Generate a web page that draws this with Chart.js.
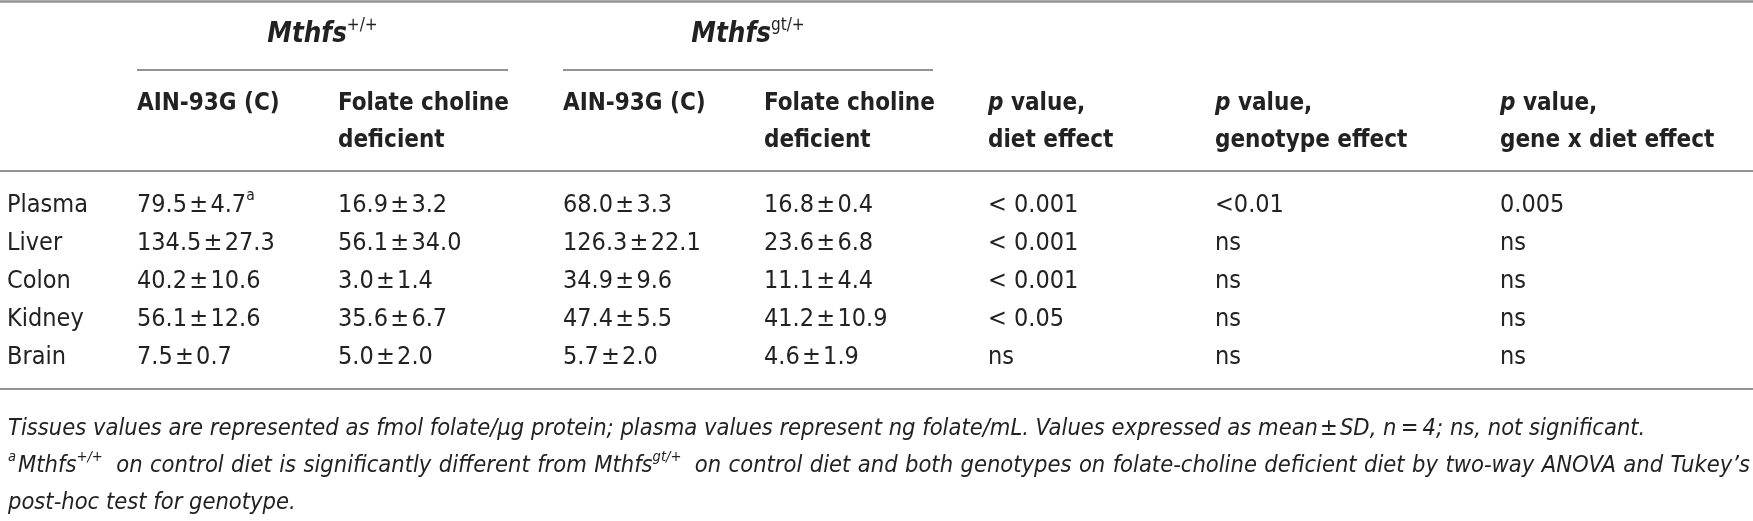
<!DOCTYPE html>
<html>
<head>
<meta charset="utf-8">
<script src="https://cdn.jsdelivr.net/npm/chart.js@4.4.1/dist/chart.umd.min.js"></script>
<style>
html, body { margin: 0; padding: 0; background: #fff; }
#wrap { width: 1753px; height: 521px; position: relative; }
</style>
</head>
<body>
<div id="wrap"><canvas id="tbl"></canvas></div>
<script>
// 조직 (행)
const tissues = ['Plasma', 'Liver', 'Colon', 'Kidney', 'Brain'];

// Mthfs +/+ , AIN-93G (C)
const wtCtrlMean = [79.5, 134.5, 40.2, 56.1, 7.5];
const wtCtrlSd   = [4.7, 27.3, 10.6, 12.6, 0.7];
const wtCtrlMark = ['a', '', '', '', ''];
// Mthfs +/+ , folate choline deficient
const wtFcdMean = [16.9, 56.1, 3.0, 35.6, 5.0];
const wtFcdSd   = [3.2, 34.0, 1.4, 6.7, 2.0];
// Mthfs gt/+ , AIN-93G (C)
const gtCtrlMean = [68.0, 126.3, 34.9, 47.4, 5.7];
const gtCtrlSd   = [3.3, 22.1, 9.6, 5.5, 2.0];
// Mthfs gt/+ , folate choline deficient
const gtFcdMean = [16.8, 23.6, 11.1, 41.2, 4.6];
const gtFcdSd   = [0.4, 6.8, 4.4, 10.9, 1.9];

// p 값
const pDiet     = ['< 0.001', '< 0.001', '< 0.001', '< 0.05', 'ns'];
const pGenotype = ['<0.01', 'ns', 'ns', 'ns', 'ns'];
const pGeneDiet = ['0.005', 'ns', 'ns', 'ns', 'ns'];

// 레이아웃 (축 단위 = 픽셀과 같은 범위)
const W = 1753, H = 521;
const colX = [7, 137, 338, 563, 764, 988, 1215, 1500];
const rowY = [205, 243, 281, 319, 357];
const FONT = '"Liberation Sans Narrow", "Arial Narrow", "DejaVu Sans Condensed", sans-serif';
const HEAD = 24;     // 헤더 글자 크기
const BODY = 25;     // 본문 글자 크기
const NOTE = 23.5;   // 각주
const INK = '#222';
const RULE = '#929292';

const fnt = (style, size) => `${style} ${size}px ${FONT}`;
const fmt = (m, s) => `${m.toFixed(1)}\u200a±\u200a${s.toFixed(1)}`;

const valueCols = [
  tissues.map(t => [{ t: t }]),
  wtCtrlMean.map((m, i) => [{ t: fmt(m, wtCtrlSd[i]) }, { t: wtCtrlMark[i], sup: true }]),
  wtFcdMean.map((m, i) => [{ t: fmt(m, wtFcdSd[i]) }]),
  gtCtrlMean.map((m, i) => [{ t: fmt(m, gtCtrlSd[i]) }]),
  gtFcdMean.map((m, i) => [{ t: fmt(m, gtFcdSd[i]) }]),
  pDiet.map(p => [{ t: p }]),
  pGenotype.map(p => [{ t: p }]),
  pGeneDiet.map(p => [{ t: p }])
];

// 한 줄 여러 스타일 텍스트
const runFont = (r, size) => {
  let st = r.style || 'normal';
  if (r.sup) st = st.replace('bold', '').trim() || 'normal';
  return fnt(st, r.sup ? size * 0.62 : size);
};

const runWidth = (ctx, runs, size) => {
  let w = 0;
  runs.forEach(r => {
    ctx.font = runFont(r, size);
    w += ctx.measureText(r.t).width + (r.gap || 0);
  });
  return w;
};

const drawRuns = (ctx, x, y, runs, size, align) => {
  if (align === 'center') x -= runWidth(ctx, runs, size) / 2;
  ctx.textBaseline = 'middle';
  ctx.textAlign = 'left';
  runs.forEach(r => {
    ctx.font = runFont(r, size);
    ctx.fillText(r.t, x, r.sup ? y - size * 0.36 : y);
    x += ctx.measureText(r.t).width + (r.gap || 0);
  });
};

const tablePlugin = {
  id: 'tablePlugin',
  afterDraw(chart) {
    const ctx = chart.ctx;
    const xs = chart.scales.x, ys = chart.scales.y;
    const px = v => xs.getPixelForValue(v);
    const py = v => ys.getPixelForValue(v);
    ctx.save();

    // 가로 선
    const hline = (x1, x2, y, w) => {
      ctx.strokeStyle = RULE;
      ctx.lineWidth = w;
      ctx.beginPath();
      ctx.moveTo(px(x1), py(y));
      ctx.lineTo(px(x2), py(y));
      ctx.stroke();
    };
    hline(0, W, 1.5, 2.5);
    hline(colX[1], 508, 70, 2);
    hline(colX[3], 933, 70, 2);
    hline(0, W, 171, 2);
    hline(0, W, 389, 2);

    ctx.fillStyle = INK;

    // 그룹 헤더
    drawRuns(ctx, px((colX[1] + 508) / 2), py(35), [{ t: 'Mthfs', style: 'italic bold' }, { t: '+/+', sup: true, style: 'normal' }], 27.5, 'center');
    drawRuns(ctx, px((colX[3] + 933) / 2), py(35), [{ t: 'Mthfs', style: 'italic bold' }, { t: 'gt/+', sup: true, style: 'normal' }], 27.5, 'center');

    // 열 헤더
    const heads = [
      null,
      [[{ t: 'AIN-93G (C)', style: 'bold' }]],
      [[{ t: 'Folate choline', style: 'bold' }], [{ t: 'deficient', style: 'bold' }]],
      [[{ t: 'AIN-93G (C)', style: 'bold' }]],
      [[{ t: 'Folate choline', style: 'bold' }], [{ t: 'deficient', style: 'bold' }]],
      [[{ t: 'p', style: 'italic bold' }, { t: ' value,', style: 'bold' }], [{ t: 'diet effect', style: 'bold' }]],
      [[{ t: 'p', style: 'italic bold' }, { t: ' value,', style: 'bold' }], [{ t: 'genotype effect', style: 'bold' }]],
      [[{ t: 'p', style: 'italic bold' }, { t: ' value,', style: 'bold' }], [{ t: 'gene x diet effect', style: 'bold' }]]
    ];
    heads.forEach((lines, c) => {
      if (!lines) return;
      lines.forEach((runs, k) => drawRuns(ctx, px(colX[c]), py(104 + k * 37), runs, HEAD));
    });

    // 셀 (데이터셋 점 위치 사용)
    chart.data.datasets.forEach((ds, c) => {
      const meta = chart.getDatasetMeta(c);
      meta.data.forEach((pt, r) => {
        drawRuns(ctx, pt.x, pt.y, valueCols[c][r].filter(x => x.t), BODY);
      });
    });

    // 각주
    drawRuns(ctx, px(8), py(429), [{ t: 'Tissues values are represented as fmol folate/\u03bcg protein; plasma values represent ng folate/mL. Values expressed as mean\u200a±\u200aSD, n\u2009=\u20094; ns, not significant.', style: 'italic' }], NOTE);

    const words = [
      [{ t: 'a', sup: true, style: 'italic', gap: 2 }, { t: 'Mthfs', style: 'italic' }, { t: '+/+', sup: true, style: 'italic', gap: 6 }],
      'on', 'control', 'diet', 'is', 'significantly', 'different', 'from',
      [{ t: 'Mthfs', style: 'italic' }, { t: 'gt/+', sup: true, style: 'italic', gap: 6 }],
      'on', 'control', 'diet', 'and', 'both', 'genotypes', 'on', 'folate-choline', 'deficient',
      'diet', 'by', 'two-way', 'ANOVA', 'and', 'Tukey\u2019s'
    ].map(w => typeof w === 'string' ? [{ t: w, style: 'italic' }] : w);
    const ws = words.map(w => runWidth(ctx, w, NOTE));
    const total = ws.reduce((a, b) => a + b, 0);
    const gap = (px(1750) - px(8) - total) / (words.length - 1);
    let x = px(8);
    words.forEach((w, i) => {
      drawRuns(ctx, x, py(466), w, NOTE);
      x += ws[i] + gap;
    });

    drawRuns(ctx, px(8), py(503), [{ t: 'post-hoc test for genotype.', style: 'italic' }], NOTE);
    ctx.restore();
  }
};

new Chart(document.getElementById('tbl'), {
  type: 'scatter',
  data: {
    datasets: valueCols.map((col, c) => ({
      data: rowY.map(y => ({ x: colX[c], y: y })),
      pointRadius: 0
    }))
  },
  options: {
    responsive: true,
    maintainAspectRatio: false,
    animation: false,
    events: [],
    layout: { padding: 0 },
    plugins: { legend: { display: false }, tooltip: { enabled: false } },
    scales: {
      x: { type: 'linear', min: 0, max: W, display: false },
      y: { type: 'linear', min: 0, max: H, reverse: true, display: false }
    }
  },
  plugins: [tablePlugin]
});
</script>
</body>
</html>
